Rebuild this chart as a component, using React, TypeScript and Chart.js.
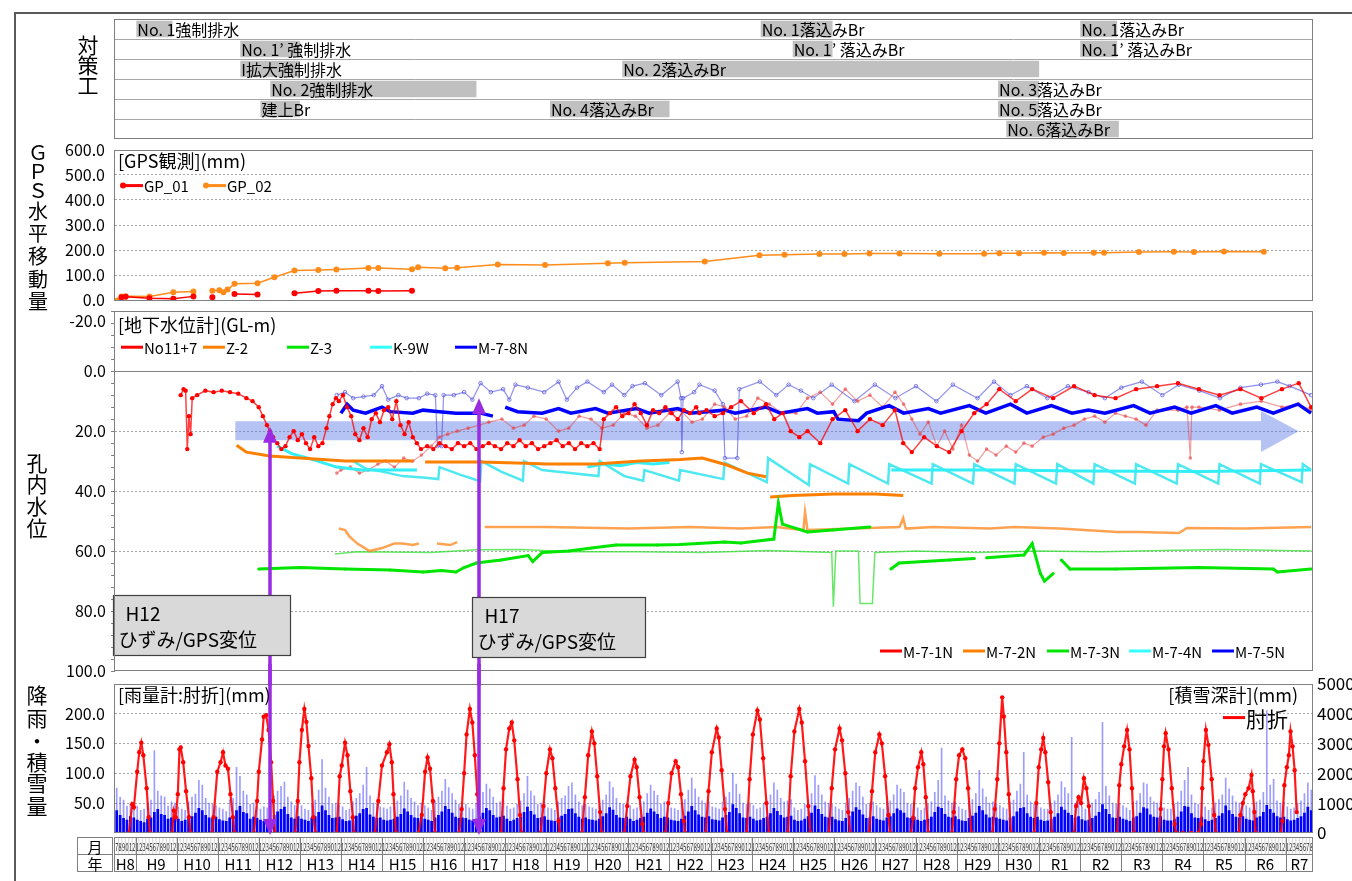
import React, { useEffect, useRef } from 'react';
import { Chart, registerables } from 'chart.js';

Chart.register(...registerables);

const FONT = "'Noto Sans CJK JP', 'Noto Sans', sans-serif";
Chart.defaults.font.family = FONT;
Chart.defaults.color = '#000';

const X_MIN = 1996.5;
const X_MAX = 2025.667;
const W = 1352;
const CLEAR = 'rgba(0,0,0,0)';

// ---------------- 対策工 (countermeasures) ----------------
const measureRowLabels = ['1', '2', '3', '4', '5', '6'];
const measureNames = [
  'No. 1強制排水', 'No. 1落込みBr', 'No. 1落込みBr',
  'No. 1’ 強制排水', 'No. 1’ 落込みBr', 'No. 1’ 落込みBr',
  'I拡大強制排水', 'No. 2落込みBr',
  'No. 2強制排水', 'No. 3落込みBr',
  '建上Br', 'No. 4落込みBr', 'No. 5落込みBr',
  'No. 6落込みBr',
];
const measureRow = [0, 0, 0, 1, 1, 1, 2, 2, 3, 3, 4, 4, 4, 5];
const measureStart = [1997.02, 2012.22, 2020.0, 1999.55, 2013.0, 2020.0, 1999.55, 2008.85, 2000.28, 2018.0, 2000.04, 2007.09, 2018.0, 2018.2];
const measureEnd = [1997.9, 2013.97, 2020.9, 2001.0, 2013.97, 2020.9, 2001.0, 2019.0, 2005.3, 2019.0, 2001.0, 2010.0, 2019.0, 2020.94];

// ---------------- GPS (mm) ----------------
const gp01 = [
  [1996.66, 13], [1996.76, 15], [1997.34, 9], [1997.92, 7], [1998.41, 16], [1998.6, null],
  [1998.87, 13], [1999.1, null], [1999.41, 25], [1999.97, 23], [2000.4, null],
  [2000.87, 28], [2001.45, 37], [2001.89, 38], [2002.67, 38], [2002.91, 37], [2003.73, 38],
];
const gp02 = [
  [1996.56, 0], [1996.66, 16], [1996.76, 17], [1997.34, 16], [1997.92, 32], [1998.41, 35], [1998.6, null],
  [1998.87, 38], [1999.04, 40], [1999.14, 32], [1999.24, 43], [1999.41, 66], [1999.97, 68], [2000.38, 92],
  [2000.87, 119], [2001.45, 121], [2001.89, 123], [2002.67, 129], [2002.91, 129], [2003.73, 124], [2003.88, 132],
  [2004.54, 128], [2004.83, 130], [2005.82, 143], [2006.97, 141], [2008.5, 148], [2008.91, 150], [2010.86, 155],
  [2012.19, 180], [2012.8, 182], [2013.65, 185], [2014.26, 185], [2014.87, 187], [2015.6, 187], [2016.57, 186],
  [2017.66, 186], [2018.03, 188], [2018.51, 188], [2019.12, 190], [2019.6, 189], [2020.33, 190], [2020.58, 190],
  [2021.43, 193], [2022.28, 194], [2022.77, 193], [2023.5, 195], [2024.47, 194],
];

// ---------------- 地下水位計 (GL-m) ----------------
const no11 = [
  [1998.10, 8], [1998.17, 6], [1998.22, 6.5], [1998.26, 26], [1998.3, 15], [1998.34, 21], [1998.38, 9], [1998.5, 8],
  [1998.7, 6.5], [1998.9, 7], [1999.1, 6.5], [1999.3, 7], [1999.5, 7.5], [1999.7, 9], [1999.85, 10], [2000.0, 12],
  [2000.1, 15], [2000.2, 18], [2000.27, 20], [2000.35, 22], [2000.45, 24], [2000.55, 26], [2000.65, 25], [2000.75, 22],
  [2000.85, 20], [2000.95, 23], [2001.05, 21], [2001.15, 24], [2001.25, 26], [2001.35, 22], [2001.45, 25], [2001.55, 24],
  [2001.65, 19], [2001.72, 15], [2001.8, 11], [2001.88, 9], [2001.95, 10], [2002.05, 8], [2002.15, 12], [2002.25, 15],
  [2002.35, 21], [2002.45, 23], [2002.55, 19], [2002.65, 22], [2002.75, 16], [2002.85, 14], [2002.95, 17], [2003.05, 13],
  [2003.15, 12], [2003.25, 16], [2003.35, 10], [2003.45, 18], [2003.55, 21], [2003.65, 17], [2003.75, 22], [2003.85, 24],
  [2003.95, 26], [2004.1, 25], [2004.25, 26], [2004.4, 24], [2004.55, 25], [2004.7, 26], [2004.85, 24], [2005.0, 25],
  [2005.15, 24], [2005.3, 26], [2005.45, 25], [2005.6, 24], [2005.75, 25], [2005.9, 26], [2006.05, 24], [2006.2, 25],
  [2006.35, 23], [2006.5, 25], [2006.65, 24], [2006.8, 26], [2006.95, 25], [2007.1, 24], [2007.25, 23], [2007.4, 25],
  [2007.55, 24], [2007.7, 26], [2007.85, 24], [2008.0, 25], [2008.15, 24], [2008.3, 26], [2008.4, 16], [2008.55, 14],
  [2008.7, 12], [2008.85, 15], [2009.0, 14], [2009.15, 11], [2009.3, 14], [2009.45, 18], [2009.6, 13], [2009.75, 14],
  [2009.9, 12], [2010.05, 14], [2010.2, 16], [2010.35, 13], [2010.5, 14], [2010.65, 12], [2010.73, 14], [2010.9, 13],
  [2011.1, 15], [2011.3, 14], [2011.5, 12], [2011.74, 10], [2012.05, 14], [2012.35, 11], [2012.55, 16], [2012.76, 14],
  [2012.95, 20], [2013.16, 22], [2013.36, 20], [2013.67, 24], [2013.97, 16], [2014.28, 13], [2014.58, 20], [2014.88, 16],
  [2015.19, 18], [2015.49, 13], [2015.69, 24], [2015.9, 27], [2016.2, 22], [2016.51, 25], [2016.81, 27], [2017.11, 20],
  [2017.42, 14], [2017.72, 11], [2018.03, 6], [2018.43, 10], [2018.83, 6], [2019.34, 9], [2019.85, 5], [2020.35, 8],
  [2020.86, 9], [2021.36, 6], [2021.87, 5], [2022.38, 4], [2022.89, 6], [2023.39, 8], [2023.9, 6], [2024.41, 9],
  [2024.91, 6], [2025.32, 4], [2025.62, 12],
];
const m71 = [
  [2001.9, 34], [2002.0, 33], [2002.23, 32], [2002.45, 34], [2002.66, 33], [2002.9, 31], [2003.09, 30], [2003.3, 32],
  [2003.53, 29], [2003.75, 30], [2003.96, 28], [2004.2, 25], [2004.4, 22], [2004.6, 21], [2004.83, 20], [2005.1, 19],
  [2005.37, 18], [2005.6, 17], [2005.92, 16], [2006.2, 19], [2006.46, 18], [2006.7, 15], [2007.0, 16], [2007.3, 20],
  [2007.55, 19], [2007.8, 15], [2008.09, 16], [2008.35, 19], [2008.63, 18], [2008.9, 14], [2009.17, 15], [2009.45, 19],
  [2009.72, 18], [2010.0, 14], [2010.26, 13], [2010.55, 17], [2010.8, 16], [2011.1, 11], [2011.34, 12], [2011.6, 16],
  [2011.88, 15], [2012.15, 9], [2012.43, 11], [2012.75, 14], [2013.08, 14], [2013.36, 9], [2013.67, 7], [2013.97, 11],
  [2014.28, 6], [2014.58, 10], [2014.88, 8], [2015.19, 12], [2015.49, 7], [2015.7, 11], [2015.9, 16], [2016.1, 21],
  [2016.3, 17], [2016.51, 25], [2016.7, 20], [2016.9, 26], [2017.11, 18], [2017.3, 28], [2017.5, 30], [2017.72, 26],
  [2017.95, 28], [2018.2, 25], [2018.43, 27], [2018.63, 24], [2018.83, 25], [2019.1, 22], [2019.34, 21], [2019.6, 19],
  [2019.85, 18], [2020.1, 16], [2020.35, 15], [2020.6, 17], [2020.86, 14], [2021.1, 15], [2021.36, 16], [2021.6, 18],
  [2021.87, 13], [2022.38, 13], [2022.6, 12], [2022.68, 29], [2022.72, 12], [2022.89, 12], [2023.39, 13], [2023.9, 11],
  [2024.41, 10], [2024.91, 12], [2025.32, 11], [2025.62, 13],
];
const m78 = [
  [2002.0, 14], [2002.15, 11], [2002.3, 13], [2002.6, 14], [2003.0, 12], [2003.2, 13.5], [2003.75, 14], [2004.0, 13],
  [2004.4, 13.5], [2004.8, 14], [2005.4, 14], [2005.7, 15], [2005.85, null], [2006.0, 12], [2006.3, 13.5], [2006.9, 14],
  [2007.3, 12.5], [2007.6, 14], [2008.2, 12.5], [2008.5, 14], [2009.2, 12.5], [2009.5, 14], [2010.2, 12.5], [2010.5, 14],
  [2011.34, 13], [2011.6, 14], [2012.35, 12], [2012.7, 14], [2013.36, 12.5], [2013.6, 14], [2014.0, 13.5], [2014.1, 16],
  [2014.6, 16.5], [2014.8, 14], [2015.35, 11.5], [2015.7, 14], [2016.3, 12.5], [2016.6, 14], [2017.3, 11.5], [2017.7, 14],
  [2018.3, 11], [2018.7, 14], [2019.3, 11.5], [2019.8, 14], [2020.2, 13], [2020.6, 14], [2021.3, 11.5], [2021.7, 14],
  [2022.3, 12], [2022.7, 14], [2023.3, 11.5], [2023.7, 14], [2024.3, 12], [2024.7, 14], [2025.3, 11], [2025.62, 14],
];
const m75 = [
  [2001.9, 8], [2002.1, 7], [2002.3, 9], [2002.55, 8.5], [2002.8, 8], [2003.0, 5], [2003.15, 9.5], [2003.4, 8],
  [2003.6, 9], [2003.9, 9], [2004.1, 7.5], [2004.3, 8], [2004.35, 25], [2004.45, 25], [2004.5, 8], [2004.75, 8],
  [2005.0, 7], [2005.2, 9.5], [2005.4, 4], [2005.65, 7], [2005.95, 6], [2006.1, 9.5], [2006.25, 4.5], [2006.55, 5.5],
  [2006.95, 7], [2007.3, 3.5], [2007.5, 9.5], [2007.75, 5.5], [2008.0, 3.5], [2008.4, 7], [2008.6, 4.5], [2008.9, 8],
  [2009.1, 5], [2009.4, 4], [2009.8, 8], [2010.2, 3.5], [2010.28, 9], [2010.3, 27], [2010.33, 9], [2010.6, 7],
  [2010.73, 4.5], [2011.1, 6.5], [2011.3, 11], [2011.35, 29], [2011.65, 29], [2011.7, 6], [2012.2, 3.5], [2012.6, 8],
  [2012.9, 4.5], [2013.2, 6.5], [2013.5, 9], [2013.95, 4.5], [2014.5, 10], [2015.0, 4.5], [2015.5, 9], [2016.0, 5],
  [2016.5, 10], [2016.9, 4.5], [2017.5, 9], [2017.9, 3.5], [2018.3, 8], [2018.7, 5], [2019.2, 9], [2019.7, 5],
  [2020.2, 7], [2020.6, 9], [2021.0, 5.5], [2021.5, 3.5], [2022.0, 8], [2022.4, 4.5], [2022.9, 6.5], [2023.4, 9],
  [2023.9, 5.5], [2024.4, 4.5], [2024.8, 3.5], [2025.1, 5], [2025.62, 8],
];
const z2 = [
  [1999.46, 24.7], [1999.7, 27], [2000.27, 28.3], [2001.0, 29], [2002.1, 30], [2003.75, 30], [2003.9, null],
  [2004.05, 30.3], [2005.4, 30.3], [2006.5, 30.7], [2007.0, 31], [2008.2, 31], [2009.3, 30], [2010.27, 29.5],
  [2010.8, 29], [2011.4, 31.3], [2011.9, 34], [2012.35, 35.2], [2012.4, null], [2012.45, 42], [2013.0, 41.5],
  [2014.0, 41], [2015.0, 41], [2015.69, 41.5],
];
const m72 = [
  [2001.95, 52.5], [2002.1, 53], [2002.2, 55], [2002.4, 57.5], [2002.7, 60], [2003.0, 59], [2003.3, 57.5],
  [2003.5, 57.5], [2003.75, 58], [2003.9, 57.5], [2004.1, null], [2004.34, 57.5], [2004.66, 58], [2004.83, 57],
  [2005.2, null], [2005.5, 52], [2007.0, 52], [2009.0, 52.5], [2010.5, 52], [2011.74, 52.5], [2012.6, 52],
  [2013.26, 53], [2013.3, 47], [2013.36, 53], [2015.6, 52], [2015.69, 49], [2015.75, 52.5], [2016.4, 52],
  [2017.8, 52.5], [2018.4, 52], [2019.5, 52.5], [2020.9, 53.6], [2021.4, 53.6], [2022.4, 54], [2022.6, 52.3],
  [2024.0, 52.5], [2025.62, 52],
];
const z3 = [
  [2000.0, 66], [2001.0, 65.5], [2002.1, 66], [2003.2, 66.3], [2004.0, 67], [2004.45, 66.5], [2004.8, 67],
  [2005.0, 65.5], [2005.3, 64], [2005.9, 63], [2006.56, 61.5], [2006.67, 63.5], [2006.9, 60.5], [2007.55, 60],
  [2008.1, 59], [2008.7, 58], [2009.7, 58], [2010.26, 57.8], [2011.34, 57], [2011.74, 57.3], [2012.54, 56],
  [2012.65, 44], [2012.75, 51], [2013.36, 53.6], [2013.97, 53], [2014.88, 52], [2015.1, null], [2015.39, 66],
  [2015.59, 64], [2016.81, 63], [2017.42, 62.5], [2017.55, null], [2017.72, 62.2], [2018.63, 61.3], [2018.83, 57.5],
  [2019.03, 67.5], [2019.13, 70], [2019.34, 67.5], [2019.45, null], [2019.54, 63], [2019.75, 66], [2020.86, 66],
  [2022.89, 65.5], [2024.7, 66], [2024.8, 67], [2025.62, 66],
];
const m73 = [
  [2001.85, 61], [2002.4, 60.2], [2004.2, 60.5], [2005.3, 59.6], [2006.4, 59.5], [2007.55, 60.2], [2009.2, 60.2],
  [2010.8, 60.5], [2012.4, 59.8], [2013.95, 60.5], [2013.99, 78.6], [2014.05, 60], [2014.6, 60], [2014.64, 77.5],
  [2014.94, 77.5], [2015.0, 60.5], [2016.0, 60], [2017.5, 60.5], [2019.0, 60], [2020.5, 60.2], [2022.0, 59.8],
  [2023.5, 59.5], [2025.62, 60],
];
const k9w = [
  [2000.45, 25], [2000.8, 27.5], [2001.2, 29], [2001.9, 32], [2002.5, 33], [2003.0, 33], [2003.85, 33], [2004.5, null],
  [2008.0, 32], [2008.4, 31], [2008.8, 31.5], [2009.2, 30.5], [2009.6, 31], [2010.0, 30.5], [2012.0, null],
  [2015.4, 33], [2018.0, 33], [2020.0, 33.3], [2023.0, 33.5], [2025.62, 33],
];
const m74 = [
  [2002.3, 30], [2002.6, 32.5], [2003.0, 33.5], [2003.5, 35], [2004.0, 35.5], [2004.37, 36], [2004.4, 32], [2004.9, 34.5],
  [2005.39, 36.7], [2005.42, 30], [2005.9, 33.5], [2006.43, 36.5], [2006.46, 30], [2006.9, 33], [2008.27, 35], [2008.3, 30],
  [2008.9, 35], [2009.36, 36.5], [2009.39, 33], [2010.23, 36.5], [2010.26, 33], [2011.31, 36], [2011.34, 30.5],
  [2012.37, 37], [2012.4, 29], [2013.39, 38], [2013.42, 31], [2014.35, 37.5], [2014.38, 31], [2015.32, 37.5],
  [2015.35, 31], [2016.38, 37.5], [2016.41, 31], [2017.39, 37.5], [2017.42, 31], [2018.4, 37.5], [2018.43, 31],
  [2019.41, 37.5], [2019.44, 31], [2020.32, 37.5], [2020.35, 31], [2021.33, 37.5], [2021.36, 31], [2022.35, 37.5],
  [2022.38, 31], [2023.36, 37.5], [2023.39, 31], [2024.37, 37.5], [2024.4, 31], [2025.39, 37], [2025.42, 31], [2025.62, 33],
];
const gwLegendTop = ['No11+7', 'Z-2', 'Z-3', 'K-9W', 'M-7-8N'];
const gwLegendBottom = ['M-7-1N', 'M-7-2N', 'M-7-3N', 'M-7-4N', 'M-7-5N'];
const gwLegendColors = ['#ff0000', '#ff8000', '#00e600', '#33ffff', '#0000ff'];

// annotation anchors (time in years, level in GL-m)
const arrowTime = [2000.28, 2005.37];
const arrowTipLevel = [18.5, 9];
const calloutLines = [['H12', 'ひずみ/GPS変位'], ['H17', 'ひずみ/GPS変位']];
const calloutStart = [1996.46, 2005.19];
const calloutEnd = [2000.77, 2009.4];
const calloutTop = [74.7, 75.3];
const calloutBottom = [94.7, 95.3];
const trendStart = 1999.43;
const trendHeadStart = 2024.4;
const trendTip = 2025.32;

// ---------------- 雨量 (mm, monthly) Jul 1996 - Aug 2025 ----------------
const rainDark = [
  38, 30, 25, 22, 28, 26,
  22, 20, 18, 24, 26, 35, 40, 32, 30, 24, 26, 28,
  24, 20, 22, 25, 28, 34, 42, 38, 30, 26, 25, 27,
  23, 21, 20, 26, 27, 38, 45, 35, 33, 24, 27, 25,
  22, 20, 22, 24, 30, 36, 40, 44, 32, 26, 24, 28,
  24, 22, 20, 26, 28, 35, 46, 38, 30, 25, 26, 27,
  23, 20, 21, 25, 29, 33, 40, 42, 31, 27, 25, 26,
  22, 21, 22, 24, 27, 32, 41, 36, 30, 26, 25, 28,
  24, 22, 20, 26, 30, 36, 45, 40, 34, 27, 25, 26,
  25, 22, 21, 24, 28, 34, 42, 38, 30, 26, 27, 29,
  24, 20, 22, 25, 27, 35, 44, 37, 31, 25, 26, 28,
  22, 21, 20, 26, 29, 32, 40, 41, 33, 27, 24, 26,
  23, 22, 21, 24, 28, 33, 43, 39, 30, 26, 25, 27,
  24, 20, 22, 25, 27, 34, 41, 36, 32, 25, 27, 26,
  22, 21, 20, 24, 29, 36, 45, 38, 31, 27, 26, 28,
  23, 22, 21, 26, 30, 35, 48, 42, 33, 26, 25, 27,
  24, 21, 22, 25, 27, 33, 42, 37, 30, 26, 27, 29,
  22, 20, 21, 24, 28, 34, 46, 40, 32, 27, 26, 27,
  23, 21, 20, 25, 29, 36, 43, 39, 31, 25, 26, 28,
  24, 22, 21, 26, 28, 33, 41, 38, 34, 26, 25, 27,
  22, 20, 22, 24, 27, 35, 44, 42, 32, 27, 26, 28,
  23, 21, 20, 25, 29, 34, 45, 38, 31, 26, 27, 26,
  24, 22, 21, 26, 28, 36, 42, 43, 33, 27, 25, 27,
  22, 20, 21, 24, 27, 33, 44, 39, 34, 30, 26, 28,
  23, 21, 22, 25, 29, 35, 48, 40, 32, 26, 25, 27,
  24, 22, 20, 26, 28, 34, 43, 41, 31, 27, 26, 28,
  22, 21, 21, 24, 27, 36, 45, 44, 33, 26, 25, 27,
  23, 20, 22, 25, 29, 33, 46, 38, 32, 27, 26, 28,
  24, 22, 21, 26, 28, 35, 47, 40, 34, 28, 26, 27,
  23, 21, 22, 25, 28, 34, 44, 38,
];
const rainPeak = [
  75, 60, 55, 45, 48, 40,
  45, 38, 40, 50, 55, 138, 70, 62, 60, 45, 52, 50,
  44, 40, 38, 52, 60, 65, 88, 80, 58, 50, 48, 46,
  42, 40, 36, 55, 58, 110, 95, 70, 64, 48, 50, 45,
  40, 44, 42, 48, 62, 70, 78, 85, 60, 52, 46, 50,
  46, 40, 38, 50, 55, 72, 123, 75, 60, 48, 50, 47,
  44, 38, 40, 52, 58, 66, 80, 110, 62, 50, 48, 44,
  42, 40, 44, 46, 54, 62, 85, 72, 58, 52, 46, 50,
  46, 42, 38, 54, 60, 70, 90, 76, 66, 55, 48, 45,
  48, 42, 40, 50, 56, 68, 82, 74, 60, 50, 52, 55,
  45, 40, 42, 48, 54, 66, 95, 70, 62, 48, 50, 52,
  42, 41, 38, 52, 58, 62, 78, 84, 64, 52, 46, 48,
  44, 42, 40, 46, 55, 64, 86, 76, 58, 50, 48, 50,
  46, 40, 42, 50, 52, 66, 80, 70, 63, 48, 52, 48,
  42, 41, 38, 48, 56, 72, 92, 74, 60, 54, 50, 52,
  44, 42, 40, 52, 60, 68, 100, 82, 65, 50, 48, 50,
  46, 40, 42, 50, 54, 64, 84, 72, 58, 52, 54, 56,
  42, 38, 40, 48, 55, 66, 96, 80, 64, 52, 50, 48,
  44, 40, 38, 50, 58, 70, 84, 78, 60, 48, 50, 52,
  46, 42, 40, 52, 54, 64, 80, 74, 68, 50, 48, 50,
  42, 38, 42, 48, 52, 68, 88, 142, 62, 54, 50, 52,
  44, 40, 38, 50, 56, 66, 105, 74, 60, 50, 52, 48,
  46, 42, 40, 52, 55, 70, 82, 135, 64, 52, 48, 50,
  42, 40, 40, 48, 54, 64, 86, 76, 66, 160, 50, 52,
  44, 40, 42, 50, 56, 68, 185, 78, 62, 50, 48, 50,
  46, 42, 38, 52, 54, 66, 84, 82, 60, 52, 50, 52,
  42, 40, 40, 48, 52, 70, 88, 110, 64, 50, 48, 50,
  44, 38, 42, 50, 56, 64, 92, 74, 62, 52, 50, 54,
  46, 42, 40, 52, 55, 68, 205, 80, 90, 54, 50, 52,
  44, 40, 42, 50, 54, 66, 84, 72,
];

// ---------------- 積雪深 肘折 (mm) ----------------
const snowDepth = [
  [1996.84, 0], [1996.92, 960], [1996.96, 860], [1997.04, 2050], [1997.09, 2700], [1997.14, 3020], [1997.19, 2600], [1997.27, 1500], [1997.32, 530], [1997.35, 0], [1997.6, null],
  [1997.89, 0], [1997.93, 750], [1997.98, 530], [1998.03, 1300], [1998.07, 2800], [1998.10, 2860], [1998.16, 2370], [1998.23, 1400], [1998.30, 530], [1998.34, 0], [1998.6, null],
  [1998.86, 0], [1998.9, 530], [1998.99, 2050], [1999.07, 2370], [1999.13, 2700], [1999.19, 2260], [1999.25, 2150], [1999.31, 1300], [1999.37, 530], [1999.41, 0], [1999.6, null],
  [1999.88, 0], [1999.96, 1070], [2000.0, 2050], [2000.08, 3130], [2000.12, 3890], [2000.18, 3940], [2000.24, 3450], [2000.3, 2370], [2000.35, 1070], [2000.39, 0], [2000.6, null],
  [2000.89, 0], [2000.95, 1070], [2000.99, 2370], [2001.05, 3450], [2001.11, 4150], [2001.16, 3720], [2001.21, 2910], [2001.28, 1830], [2001.33, 530], [2001.38, 0], [2001.6, null],
  [2001.9, 0], [2001.97, 1900], [2002.02, 2260], [2002.1, 3020], [2002.16, 2600], [2002.23, 1400], [2002.29, 530], [2002.32, 0], [2002.6, null],
  [2002.83, 0], [2002.91, 1070], [2003.0, 2260], [2003.12, 2700], [2003.18, 2970], [2003.24, 2370], [2003.28, 1300], [2003.34, 0], [2003.6, null],
  [2003.89, 0], [2003.97, 600], [2004.05, 2050], [2004.11, 2530], [2004.17, 2150], [2004.24, 1070], [2004.29, 0], [2004.6, null],
  [2004.88, 0], [2004.94, 800], [2005.0, 2000], [2005.06, 3300], [2005.14, 4150], [2005.2, 3700], [2005.26, 2600], [2005.32, 1300], [2005.38, 0], [2005.6, null],
  [2005.9, 0], [2005.96, 1500], [2006.02, 2800], [2006.1, 3500], [2006.16, 3700], [2006.22, 3100], [2006.3, 1800], [2006.36, 600], [2006.4, 0], [2006.6, null],
  [2006.86, 0], [2006.93, 900], [2007.0, 2000], [2007.09, 2800], [2007.15, 2500], [2007.22, 1500], [2007.3, 400], [2007.33, 0], [2007.6, null],
  [2007.87, 0], [2007.94, 1200], [2008.02, 2600], [2008.11, 3400], [2008.17, 3000], [2008.24, 1900], [2008.31, 700], [2008.35, 0], [2008.6, null],
  [2008.9, 0], [2008.97, 900], [2009.05, 1900], [2009.15, 2450], [2009.2, 2200], [2009.27, 1200], [2009.34, 300], [2009.37, 0], [2009.6, null],
  [2009.9, 0], [2009.97, 1000], [2010.05, 2000], [2010.15, 2400], [2010.21, 2200], [2010.28, 1300], [2010.35, 400], [2010.38, 0], [2010.6, null],
  [2010.88, 0], [2010.95, 1400], [2011.03, 2700], [2011.15, 3500], [2011.2, 3200], [2011.27, 2100], [2011.35, 800], [2011.4, 0], [2011.6, null],
  [2011.88, 0], [2011.95, 1800], [2012.03, 3300], [2012.14, 4100], [2012.2, 3800], [2012.28, 2500], [2012.36, 1000], [2012.42, 0], [2012.6, null],
  [2012.88, 0], [2012.95, 1900], [2013.04, 3400], [2013.16, 4150], [2013.22, 3700], [2013.3, 2400], [2013.38, 900], [2013.43, 0], [2013.6, null],
  [2013.88, 0], [2013.95, 1500], [2014.03, 2800], [2014.14, 3500], [2014.2, 3100], [2014.28, 2000], [2014.35, 700], [2014.4, 0], [2014.6, null],
  [2014.86, 0], [2014.93, 1400], [2015.01, 2700], [2015.11, 3300], [2015.17, 3000], [2015.25, 1900], [2015.33, 600], [2015.37, 0], [2015.6, null],
  [2015.88, 0], [2015.93, 500], [2015.98, 1500], [2016.05, 2200], [2016.13, 2700], [2016.18, 2300], [2016.24, 1200], [2016.3, 0], [2016.6, null],
  [2016.88, 0], [2016.92, 700], [2016.98, 1800], [2017.05, 2600], [2017.13, 2800], [2017.2, 2500], [2017.27, 1500], [2017.35, 0], [2017.6, null],
  [2017.86, 0], [2017.92, 800], [2017.98, 1800], [2018.03, 3000], [2018.1, 4540], [2018.14, 3900], [2018.2, 2700], [2018.26, 1300], [2018.31, 0], [2018.6, null],
  [2018.88, 0], [2018.93, 1000], [2018.99, 2200], [2019.05, 2800], [2019.1, 3180], [2019.15, 2700], [2019.22, 1700], [2019.28, 700], [2019.31, 0], [2019.6, null],
  [2019.85, 0], [2019.9, 900], [2019.96, 1200], [2020.02, 1000], [2020.09, 1830], [2020.15, 1500], [2020.21, 900], [2020.26, 0], [2020.6, null],
  [2020.9, 0], [2020.95, 1600], [2021.0, 2300], [2021.07, 2900], [2021.14, 3450], [2021.2, 2800], [2021.26, 1500], [2021.31, 0], [2021.6, null],
  [2021.92, 0], [2021.96, 800], [2022.0, 1800], [2022.04, 2900], [2022.08, 3340], [2022.15, 2800], [2022.23, 1500], [2022.3, 300], [2022.33, 0], [2022.5, 0], [2022.7, 0], [2022.88, 0],
  [2022.94, 300], [2022.97, 1500], [2023.0, 2400], [2023.06, 3450], [2023.12, 2950], [2023.2, 1800], [2023.26, 600], [2023.3, 0], [2023.6, null],
  [2023.86, 0], [2023.9, 600], [2023.96, 1000], [2024.02, 1300], [2024.1, 1500], [2024.17, 1940], [2024.2, 1400], [2024.24, 700], [2024.27, 0], [2024.6, null],
  [2024.88, 0], [2024.92, 400], [2024.97, 1600], [2025.03, 2200], [2025.08, 2600], [2025.12, 3400], [2025.17, 2900], [2025.22, 2100], [2025.27, 700],
];

const yearLabels = ['H8', 'H9', 'H10', 'H11', 'H12', 'H13', 'H14', 'H15', 'H16', 'H17', 'H18', 'H19', 'H20', 'H21', 'H22',
  'H23', 'H24', 'H25', 'H26', 'H27', 'H28', 'H29', 'H30', 'R1', 'R2', 'R3', 'R4', 'R5', 'R6', 'R7'];
const FIRST_YEAR = 1996;

// ---------------- helpers ----------------
const pts = (arr: any[]) => arr.map(([x, y]) => ({ x, y }));
const monthX = (i: number) => X_MIN + (i + 0.5) / 12;

function baseOptions(padding: any) {
  return {
    responsive: false,
    animation: false,
    events: [],
    layout: { padding },
    plugins: { legend: { display: false }, tooltip: { enabled: false } },
  };
}
const xHidden = { type: 'linear', min: X_MIN, max: X_MAX, display: false, offset: false };

function frame(ctx: any, a: any) {
  ctx.strokeStyle = '#808080';
  ctx.lineWidth = 1;
  ctx.strokeRect(Math.round(a.left) - 0.5, Math.round(a.top) + 0.5, Math.round(a.right - a.left), Math.round(a.bottom - a.top) - 1);
}

function legendItem(ctx: any, x: number, y: number, color: string, label: string, marker: boolean) {
  ctx.strokeStyle = color;
  ctx.lineWidth = 3;
  ctx.beginPath();
  ctx.moveTo(x, y);
  ctx.lineTo(x + 22, y);
  ctx.stroke();
  if (marker) {
    ctx.fillStyle = color;
    ctx.beginPath();
    ctx.arc(x + 2, y, 3, 0, Math.PI * 2);
    ctx.fill();
  }
  ctx.fillStyle = '#000';
  ctx.font = `15px ${FONT}`;
  ctx.textAlign = 'left';
  ctx.textBaseline = 'middle';
  ctx.fillText(label, x + 23, y + 1);
}

const PURPLE = '#9a2be2';

// ---------------- chart configs ----------------
function makeMeasures() {
  const plugin = {
    id: 'measureDecor',
    afterDatasetsDraw(chart: any) {
      const { ctx, chartArea: a, scales } = chart;
      ctx.save();
      ctx.strokeStyle = '#a6a6a6';
      ctx.lineWidth = 1;
      const h = (a.bottom - a.top) / measureRowLabels.length;
      for (let k = 1; k < measureRowLabels.length; k++) {
        const yy = Math.round(a.top + k * h) + 0.5;
        ctx.beginPath();
        ctx.moveTo(a.left, yy);
        ctx.lineTo(a.right, yy);
        ctx.stroke();
      }
      ctx.strokeStyle = '#7f7f7f';
      ctx.strokeRect(a.left - 0.5, a.top + 0.5, a.right - a.left, a.bottom - a.top - 1);
      ctx.fillStyle = '#000';
      ctx.font = `16px ${FONT}`;
      ctx.textAlign = 'left';
      ctx.textBaseline = 'middle';
      measureNames.forEach((n, i) => {
        ctx.fillText(n, scales.x.getPixelForValue(measureStart[i]) + 1, scales.y.getPixelForValue(measureRow[i]) + 1);
      });
      ctx.restore();
    },
  };
  return {
    type: 'bar',
    data: {
      labels: measureRowLabels,
      datasets: [{
        data: measureStart.map((s, i) => ({ x: [s, measureEnd[i]], y: measureRowLabels[measureRow[i]] })),
        backgroundColor: '#c0c0c0',
        borderWidth: 0,
        categoryPercentage: 0.82,
        barPercentage: 1,
      }],
    },
    options: {
      ...baseOptions({ left: 115, right: 39, top: 19, bottom: 11 }),
      indexAxis: 'y',
      scales: { x: xHidden, y: { display: false } },
    },
    plugins: [plugin],
  };
}

function makeGps() {
  const plugin = {
    id: 'gpsDecor',
    afterDatasetsDraw(chart: any) {
      const { ctx, chartArea: a } = chart;
      ctx.save();
      frame(ctx, a);
      ctx.fillStyle = '#000';
      ctx.font = `18px ${FONT}`;
      ctx.textAlign = 'left';
      ctx.textBaseline = 'middle';
      ctx.fillText('[GPS観測](mm)', a.left + 3, a.top + 12);
      legendItem(ctx, a.left + 6, a.top + 36, '#ff0000', 'GP_01', true);
      legendItem(ctx, a.left + 89, a.top + 36, '#ff8c1a', 'GP_02', true);
      ctx.restore();
    },
  };
  return {
    type: 'line',
    data: {
      datasets: [
        { label: 'GP_01', data: pts(gp01), borderColor: '#ff0000', backgroundColor: '#ff0000', borderWidth: 1.5, pointRadius: 3, pointBorderWidth: 0, spanGaps: false },
        { label: 'GP_02', data: pts(gp02), borderColor: '#ff8c1a', backgroundColor: '#ff8c1a', borderWidth: 1.5, pointRadius: 3, pointBorderWidth: 0, spanGaps: false },
      ],
    },
    options: {
      ...baseOptions({ left: 0, right: 39, top: 17, bottom: 15 }),
      scales: {
        x: xHidden,
        y: {
          min: 0, max: 600,
          ticks: { stepSize: 100, callback: (v: any) => Number(v).toFixed(1), font: { size: 16 }, color: '#000', padding: 10 },
          grid: { color: (c: any) => (c.tick && c.tick.value > 0 && c.tick.value < 600 ? '#a6a6a6' : CLEAR), drawTicks: false },
          border: { display: false, dash: [2, 2] },
          afterFit: (s: any) => { s.width = 115; },
        },
      },
    },
    plugins: [plugin],
  };
}

function makeGw() {
  const plugin = {
    id: 'gwDecor',
    beforeDatasetsDraw(chart: any) {
      const { ctx, chartArea: a, scales: { x, y } } = chart;
      ctx.save();
      ctx.strokeStyle = '#808080';
      ctx.lineWidth = 1;
      const y0 = Math.round(y.getPixelForValue(0)) + 0.5;
      ctx.beginPath();
      ctx.moveTo(a.left, y0);
      ctx.lineTo(a.right, y0);
      ctx.stroke();
      // trend arrow
      ctx.fillStyle = 'rgba(90,120,230,0.45)';
      ctx.beginPath();
      ctx.moveTo(x.getPixelForValue(trendStart), y.getPixelForValue(16.7));
      ctx.lineTo(x.getPixelForValue(trendHeadStart), y.getPixelForValue(16.7));
      ctx.lineTo(x.getPixelForValue(trendHeadStart), y.getPixelForValue(13.3));
      ctx.lineTo(x.getPixelForValue(trendTip), y.getPixelForValue(20));
      ctx.lineTo(x.getPixelForValue(trendHeadStart), y.getPixelForValue(27));
      ctx.lineTo(x.getPixelForValue(trendHeadStart), y.getPixelForValue(23));
      ctx.lineTo(x.getPixelForValue(trendStart), y.getPixelForValue(23));
      ctx.closePath();
      ctx.fill();
      ctx.restore();
    },
    afterDatasetsDraw(chart: any) {
      const { ctx, chartArea: a, scales: { x, y } } = chart;
      ctx.save();
      // purple arrows (upper part)
      arrowTime.forEach((t, i) => {
        const px = Math.round(x.getPixelForValue(t));
        const tip = y.getPixelForValue(arrowTipLevel[i]);
        ctx.strokeStyle = PURPLE;
        ctx.lineWidth = 3.5;
        ctx.beginPath();
        ctx.moveTo(px, tip + 12);
        ctx.lineTo(px, chart.height);
        ctx.stroke();
        ctx.fillStyle = PURPLE;
        ctx.beginPath();
        ctx.moveTo(px, tip);
        ctx.lineTo(px - 7, tip + 16);
        ctx.lineTo(px + 7, tip + 16);
        ctx.closePath();
        ctx.fill();
      });
      // callouts
      calloutLines.forEach((lines, i) => {
        const x0 = Math.round(x.getPixelForValue(calloutStart[i])) + 0.5;
        const x1 = Math.round(x.getPixelForValue(calloutEnd[i])) + 0.5;
        const y0 = Math.round(y.getPixelForValue(calloutTop[i])) + 0.5;
        const y1 = Math.round(y.getPixelForValue(calloutBottom[i])) + 0.5;
        ctx.fillStyle = '#d9d9d9';
        ctx.fillRect(x0, y0, x1 - x0, y1 - y0);
        ctx.strokeStyle = '#404040';
        ctx.lineWidth = 1.2;
        ctx.strokeRect(x0, y0, x1 - x0, y1 - y0);
        ctx.fillStyle = '#000';
        ctx.font = `19px ${FONT}`;
        ctx.textAlign = 'left';
        ctx.textBaseline = 'middle';
        ctx.fillText(lines[0], x0 + 12, y0 + 18);
        ctx.fillText(lines[1], x0 + 5, y0 + 44);
      });
      frame(ctx, a);
      ctx.fillStyle = '#000';
      ctx.font = `18px ${FONT}`;
      ctx.textAlign = 'left';
      ctx.textBaseline = 'middle';
      ctx.fillText('[地下水位計](GL-m)', a.left + 3, a.top + 14);
      const topOffsets = [6, 88, 172, 255, 340];
      gwLegendTop.forEach((n, i) => legendItem(ctx, a.left + topOffsets[i], a.top + 36, gwLegendColors[i], n, false));
      const botOffsets = [765, 848, 932, 1014, 1097];
      gwLegendBottom.forEach((n, i) => legendItem(ctx, a.left + botOffsets[i], a.bottom - 20, gwLegendColors[i], n, false));
      ctx.restore();
    },
  };
  const line = (label: string, data: any[], color: string, width: number, extra: any = {}) => ({
    label, data: pts(data), borderColor: color, borderWidth: width, pointRadius: 0, spanGaps: false, tension: 0, ...extra,
  });
  return {
    type: 'line',
    data: {
      datasets: [
        line('No11+7', no11, 'rgba(255,0,0,0.75)', 1.5, { pointRadius: 2.2, pointBackgroundColor: '#ff0000', pointBorderWidth: 0 }),
        line('M-7-8N', m78, '#0000ff', 3.5),
        line('Z-3', z3, '#00e600', 3, { pointRadius: 1.5, pointBackgroundColor: '#00e600', pointBorderWidth: 0 }),
        line('Z-2', z2, '#ff8000', 3),
        line('K-9W', k9w, '#33eef5', 3),
        line('M-7-4N', m74, 'rgba(60,230,240,0.9)', 2.5),
        line('M-7-1N', m71, 'rgba(230,60,60,0.5)', 1.2, { pointRadius: 1.8, pointBackgroundColor: 'rgba(230,60,60,0.6)', pointBorderWidth: 0 }),
        line('M-7-5N', m75, 'rgba(70,70,220,0.6)', 1.2, { pointRadius: 1.8, pointBackgroundColor: CLEAR, pointBorderColor: 'rgba(70,70,220,0.65)', pointBorderWidth: 1 }),
        line('M-7-2N', m72, 'rgba(255,140,40,0.8)', 2.5),
        line('M-7-3N', m73, 'rgba(40,220,40,0.7)', 1.5),
      ],
    },
    options: {
      ...baseOptions({ left: 0, right: 39, top: 24, bottom: 15 }),
      scales: {
        x: xHidden,
        y: {
          reverse: true, min: -20, max: 100,
          ticks: {
            stepSize: 4, autoSkip: false, font: { size: 16 }, color: '#000', padding: 5,
            callback: (v: any) => (v === -20 ? ['', '-20.0'] : (Math.abs(v % 20) < 1e-6 ? Number(v).toFixed(1) : '')),
          },
          grid: {
            color: (c: any) => (c.tick && Math.abs(c.tick.value % 20) < 1e-6 && c.tick.value > 0 && c.tick.value < 100 ? '#a6a6a6' : CLEAR),
            drawTicks: true, tickLength: 4, tickColor: '#808080',
          },
          border: { display: false, dash: [2, 2] },
          afterFit: (s: any) => { s.width = 115; },
        },
      },
    },
    plugins: [plugin],
  };
}

function makeRain() {
  const plugin = {
    id: 'rainDecor',
    afterDatasetsDraw(chart: any) {
      const { ctx, chartArea: a, scales: { x } } = chart;
      ctx.save();
      frame(ctx, a);
      // purple arrows (lower part)
      arrowTime.forEach((t) => {
        const px = Math.round(x.getPixelForValue(t));
        ctx.strokeStyle = PURPLE;
        ctx.lineWidth = 3.5;
        ctx.beginPath();
        ctx.moveTo(px, 0);
        ctx.lineTo(px, a.bottom - 12);
        ctx.stroke();
        ctx.fillStyle = PURPLE;
        ctx.beginPath();
        ctx.moveTo(px, a.bottom + 2);
        ctx.lineTo(px - 7, a.bottom - 14);
        ctx.lineTo(px + 7, a.bottom - 14);
        ctx.closePath();
        ctx.fill();
      });
      // titles
      ctx.fillStyle = '#000';
      ctx.font = `18px ${FONT}`;
      ctx.textBaseline = 'middle';
      ctx.textAlign = 'left';
      ctx.fillText('[雨量計:肘折](mm)', a.left + 3, a.top + 12);
      ctx.textAlign = 'right';
      ctx.fillText('[積雪深計](mm)', a.right - 15, a.top + 12);
      ctx.strokeStyle = '#ff0000';
      ctx.lineWidth = 3;
      ctx.beginPath();
      ctx.moveTo(a.right - 90, a.top + 34);
      ctx.lineTo(a.right - 68, a.top + 34);
      ctx.stroke();
      ctx.font = `21px ${FONT}`;
      ctx.textAlign = 'left';
      ctx.fillText('肘折', a.right - 67, a.top + 35);

      // month / year table
      const top = Math.round(a.bottom) + 4.5;
      const mid = top + 17;
      const bot = top + 34;
      ctx.strokeStyle = '#7f7f7f';
      ctx.lineWidth = 1;
      ctx.strokeRect(77.5, top, 35, bot - top);
      ctx.beginPath();
      ctx.moveTo(77.5, mid);
      ctx.lineTo(112.5, mid);
      ctx.stroke();
      ctx.font = `15px ${FONT}`;
      ctx.textAlign = 'center';
      ctx.fillStyle = '#000';
      ctx.fillText('月', 95, (top + mid) / 2 + 1);
      ctx.fillText('年', 95, (mid + bot) / 2 + 1);
      // month grid
      const nMonths = rainDark.length;
      ctx.strokeStyle = '#b8b8b8';
      ctx.lineWidth = 0.6;
      for (let i = 1; i < nMonths; i++) {
        const px = x.getPixelForValue(X_MIN + i / 12);
        ctx.beginPath();
        ctx.moveTo(px, top);
        ctx.lineTo(px, mid);
        ctx.stroke();
      }
      ctx.fillStyle = '#222';
      ctx.font = `10px ${FONT}`;
      for (let i = 0; i < nMonths; i++) {
        const month = ((6 + i) % 12) + 1;
        const px = x.getPixelForValue(monthX(i));
        ctx.save();
        ctx.translate(px, (top + mid) / 2 + 1);
        ctx.scale(0.55, 1);
        ctx.fillText(String(month % 10), 0, 0);
        ctx.restore();
      }
      // year boundaries + labels
      ctx.strokeStyle = '#7f7f7f';
      ctx.lineWidth = 1;
      ctx.beginPath();
      ctx.moveTo(a.left, mid);
      ctx.lineTo(a.right, mid);
      ctx.stroke();
      ctx.strokeRect(Math.round(a.left) - 0.5, top, Math.round(a.right - a.left), bot - top);
      yearLabels.forEach((lab, i) => {
        const y0 = Math.max(X_MIN, FIRST_YEAR + i);
        const y1 = Math.min(X_MAX, FIRST_YEAR + i + 1);
        if (i > 0) {
          const px = Math.round(x.getPixelForValue(FIRST_YEAR + i)) + 0.5;
          ctx.beginPath();
          ctx.moveTo(px, top);
          ctx.lineTo(px, bot);
          ctx.stroke();
        }
        ctx.fillStyle = '#000';
        ctx.font = `15px ${FONT}`;
        ctx.fillText(lab, (x.getPixelForValue(y0) + x.getPixelForValue(y1)) / 2, (mid + bot) / 2 + 1);
      });
      ctx.restore();
    },
  };
  return {
    type: 'bar',
    data: {
      datasets: [
        {
          type: 'line', label: '肘折', data: pts(snowDepth), yAxisID: 'ySnow', borderColor: 'rgba(255,0,0,0.9)', borderWidth: 2.2,
          pointRadius: 2.2, pointBackgroundColor: '#ff0000', pointBorderWidth: 0, spanGaps: false, tension: 0, order: 0,
        },
        {
          type: 'bar', label: 'rain', data: rainDark.map((v, i) => ({ x: monthX(i), y: v })), yAxisID: 'y',
          backgroundColor: '#0000ff', borderWidth: 0, barPercentage: 0.8, categoryPercentage: 1, grouped: false, order: 1,
        },
        {
          type: 'bar', label: 'rainPeak', data: rainPeak.map((v, i) => ({ x: monthX(i), y: v })), yAxisID: 'y',
          backgroundColor: 'rgba(60,60,255,0.5)', borderWidth: 0, barThickness: 1, grouped: false, order: 2,
        },
      ],
    },
    options: {
      ...baseOptions({ left: 0, right: 0, top: 15, bottom: 48 }),
      scales: {
        x: xHidden,
        y: {
          min: 0, max: 250,
          ticks: { stepSize: 50, font: { size: 16 }, color: '#000', padding: 10, callback: (v: any) => (v === 0 || v === 250 ? '' : Number(v).toFixed(1)) },
          grid: { color: (c: any) => (c.tick && c.tick.value > 0 && c.tick.value < 250 ? '#a6a6a6' : CLEAR), drawTicks: false },
          border: { display: false, dash: [2, 2] },
          afterFit: (s: any) => { s.width = 115; },
        },
        ySnow: {
          position: 'right', min: 0, max: 5000,
          ticks: { stepSize: 1000, font: { size: 17 }, color: '#000', padding: 4, callback: (v: any) => String(v) },
          grid: { drawOnChartArea: false, drawTicks: false },
          border: { display: false },
          afterFit: (s: any) => { s.width = 39; },
        },
      },
    },
    plugins: [plugin],
  };
}

function ChartBox({ top, height, make }: { top: number; height: number; make: () => any }) {
  const ref = useRef<HTMLCanvasElement | null>(null);
  useEffect(() => {
    const chart = new Chart(ref.current as HTMLCanvasElement, make());
    return () => chart.destroy();
  }, []);
  return (
    <div style={{ position: 'absolute', left: 0, top, width: W, height }}>
      <canvas ref={ref} width={W} height={height} style={{ display: 'block', width: W, height }} />
    </div>
  );
}

function VText({ chars, x, ys, size }: { chars: string[]; x: number; ys: number[]; size: number }) {
  return (
    <>
      {chars.map((c, i) => (
        <div
          key={i}
          style={{
            position: 'absolute', left: x - 20, width: 40, top: ys[i] - size * 0.6, height: size * 1.2,
            lineHeight: `${size * 1.2}px`, fontSize: size, textAlign: 'center', fontFamily: FONT, color: '#000',
          }}
        >
          {c}
        </div>
      ))}
    </>
  );
}

export default function App() {
  return (
    <div style={{ position: 'absolute', left: 0, top: 0, width: W, height: 881, overflow: 'hidden', background: '#fff' }}>
      <div style={{ position: 'absolute', left: 14, top: 12, width: W - 14, height: 881 - 12, borderTop: '2px solid #5a5a5a', borderLeft: '2px solid #5a5a5a', boxSizing: 'border-box' }} />
      <ChartBox top={0} height={150} make={makeMeasures} />
      <ChartBox top={130} height={190} make={makeGps} />
      <ChartBox top={287} height={399} make={makeGw} />
      <ChartBox top={664} height={217} make={makeRain} />
      <VText chars={['対', '策', '工']} x={88} ys={[45, 65, 85]} size={21} />
      <VText chars={['Ｇ', 'Ｐ', 'Ｓ', '水', '平', '移', '動', '量']} x={38} ys={[152, 171, 190, 211, 233, 256, 279, 301]} size={20} />
      <VText chars={['孔', '内', '水', '位']} x={37} ys={[463, 484, 506, 528]} size={21} />
      <VText chars={['降', '雨', '・', '積', '雪', '量']} x={37} ys={[695, 718, 741, 762, 783, 806]} size={21} />
    </div>
  );
}
